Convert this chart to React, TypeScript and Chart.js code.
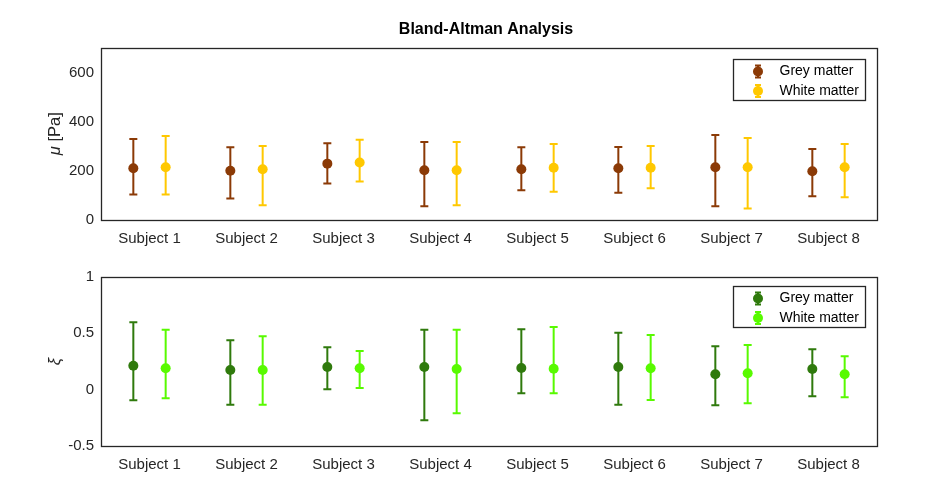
import React, { useEffect, useRef } from 'react';
import { Chart, registerables } from 'chart.js';

Chart.register(...registerables);

const subjects = ['Subject 1', 'Subject 2', 'Subject 3', 'Subject 4', 'Subject 5', 'Subject 6', 'Subject 7', 'Subject 8'];
const legendLabels = ['Grey matter', 'White matter'];

const muGreyMean = [209, 199, 228, 201, 205, 209, 213, 197];
const muGreyLow = [102, 86, 147, 54, 119, 109, 54, 95];
const muGreyHigh = [329, 295, 311, 316, 295, 296, 345, 288];
const muWhiteMean = [213, 205, 233, 201, 211, 211, 213, 213];
const muWhiteLow = [102, 58, 155, 58, 113, 128, 45, 91];
const muWhiteHigh = [341, 300, 326, 316, 308, 300, 333, 308];

const xiGreyMean = [0.213, 0.175, 0.201, 0.201, 0.193, 0.201, 0.137, 0.184];
const xiGreyLow = [-0.094, -0.133, 0.004, -0.272, -0.032, -0.133, -0.138, -0.059];
const xiGreyHigh = [0.598, 0.438, 0.376, 0.532, 0.536, 0.506, 0.385, 0.358];
const xiWhiteMean = [0.19, 0.175, 0.19, 0.184, 0.186, 0.19, 0.146, 0.137];
const xiWhiteLow = [-0.076, -0.133, 0.015, -0.21, -0.032, -0.091, -0.121, -0.067];
const xiWhiteHigh = [0.532, 0.474, 0.343, 0.532, 0.556, 0.485, 0.397, 0.296];

const muTicks = [0, 200, 400, 600];
const xiTicks = [-0.5, 0, 0.5, 1];
const xiTickLabels = ['-0.5', '0', '0.5', '1'];
const muTickLabels = ['0', '200', '400', '600'];

const FONT = '"Liberation Sans", Arial, Helvetica, sans-serif';
const TEXT = '#262626';
const OFFSET = 1 / 6;

type Panel = {
  grey: string;
  white: string;
  greyMean: number[]; greyLow: number[]; greyHigh: number[];
  whiteMean: number[]; whiteLow: number[]; whiteHigh: number[];
  yMin: number; yMax: number; yTicks: number[]; yTickLabels: string[];
  yLabelItalic: string; yLabelRest: string;
  title?: string;
  height: number; areaTop: number; areaBottom: number;
  legendTop: number;
};

const errorBarPlugin = {
  id: 'errorBars',
  beforeDatasetsDraw(chart: any) {
    const ctx = chart.ctx;
    const xs = chart.scales.x;
    const ys = chart.scales.y;
    chart.data.datasets.forEach((ds: any) => {
      ctx.save();
      ctx.strokeStyle = ds.pointBackgroundColor;
      ctx.lineWidth = 2;
      ds.data.forEach((p: any, i: number) => {
        const x = xs.getPixelForValue(p.x);
        const yl = ys.getPixelForValue(ds.errLow[i]);
        const yh = ys.getPixelForValue(ds.errHigh[i]);
        ctx.beginPath();
        ctx.moveTo(x, yl);
        ctx.lineTo(x, yh);
        ctx.moveTo(x - 4, yl);
        ctx.lineTo(x + 4, yl);
        ctx.moveTo(x - 4, yh);
        ctx.lineTo(x + 4, yh);
        ctx.stroke();
      });
      ctx.restore();
    });
  },
};

const decorPlugin = {
  id: 'decor',
  afterDraw(chart: any, _args: any, opts: any) {
    const ctx = chart.ctx;
    const a = chart.chartArea;
    ctx.save();
    // frame
    ctx.strokeStyle = TEXT;
    ctx.lineWidth = 1.3;
    ctx.strokeRect(Math.round(a.left) + 0.5, Math.round(a.top) + 0.5, Math.round(a.right - a.left), Math.round(a.bottom - a.top));

    // title
    if (opts.title) {
      ctx.fillStyle = '#000';
      ctx.font = `bold 16px ${FONT}`;
      ctx.textAlign = 'center';
      ctx.textBaseline = 'middle';
      ctx.fillText(opts.title, (a.left + a.right) / 2 - 3, 30);
    }

    // y label (rotated, mixed styles)
    ctx.save();
    ctx.translate(55, (a.top + a.bottom) / 2);
    ctx.rotate(-Math.PI / 2);
    ctx.fillStyle = TEXT;
    ctx.textBaseline = 'middle';
    const it = `italic 16.5px ${FONT}`;
    const nm = `16.5px ${FONT}`;
    ctx.font = it;
    const w1 = ctx.measureText(opts.yLabelItalic).width;
    ctx.font = nm;
    const w2 = ctx.measureText(opts.yLabelRest).width;
    const sx = -(w1 + w2) / 2;
    ctx.textAlign = 'left';
    ctx.font = it;
    ctx.fillText(opts.yLabelItalic, sx, 0);
    ctx.font = nm;
    ctx.fillText(opts.yLabelRest, sx + w1, 0);
    ctx.restore();

    // legend
    const bw = 132;
    const bh = 41;
    const bx = Math.round(a.right - 12 - bw);
    const by = Math.round(opts.legendTop);
    ctx.fillStyle = '#fff';
    ctx.fillRect(bx, by, bw, bh);
    ctx.strokeStyle = TEXT;
    ctx.lineWidth = 1.3;
    ctx.strokeRect(bx + 0.5, by + 0.5, bw, bh);
    chart.data.datasets.forEach((ds: any, i: number) => {
      const cy = by + 12.5 + i * 19.5;
      const mx = bx + 25;
      ctx.strokeStyle = ds.pointBackgroundColor;
      ctx.lineWidth = 2;
      ctx.beginPath();
      ctx.moveTo(mx, cy - 6);
      ctx.lineTo(mx, cy + 6);
      ctx.moveTo(mx - 3, cy - 6);
      ctx.lineTo(mx + 3, cy - 6);
      ctx.moveTo(mx - 3, cy + 6);
      ctx.lineTo(mx + 3, cy + 6);
      ctx.stroke();
      ctx.fillStyle = ds.pointBackgroundColor;
      ctx.beginPath();
      ctx.arc(mx, cy, 5, 0, Math.PI * 2);
      ctx.fill();
      ctx.fillStyle = '#000';
      ctx.font = `14px ${FONT}`;
      ctx.textAlign = 'left';
      ctx.textBaseline = 'middle';
      ctx.fillText(ds.label, bx + 46.5, cy);
    });
    ctx.restore();
  },
};

function PanelChart({ p, top }: { p: Panel; top: number }) {
  const ref = useRef<HTMLCanvasElement | null>(null);
  useEffect(() => {
    if (!ref.current) return;
    const mk = (mean: number[], off: number) => mean.map((v, i) => ({ x: i + 1 + off, y: v }));
    const chart = new Chart(ref.current, {
      type: 'scatter',
      data: {
        datasets: [
          {
            label: legendLabels[0],
            data: mk(p.greyMean, -OFFSET),
            errLow: p.greyLow, errHigh: p.greyHigh,
            pointBackgroundColor: p.grey, pointBorderWidth: 0, pointRadius: 5, pointHoverRadius: 5,
            showLine: false,
          } as any,
          {
            label: legendLabels[1],
            data: mk(p.whiteMean, OFFSET),
            errLow: p.whiteLow, errHigh: p.whiteHigh,
            pointBackgroundColor: p.white, pointBorderWidth: 0, pointRadius: 5, pointHoverRadius: 5,
            showLine: false,
          } as any,
        ],
      },
      options: {
        responsive: false,
        animation: false,
        events: [],
        layout: { padding: { left: 0, right: 64, top: p.areaTop, bottom: 0 } },
        plugins: {
          legend: { display: false },
          tooltip: { enabled: false },
          decor: {
            title: p.title,
            yLabelItalic: p.yLabelItalic,
            yLabelRest: p.yLabelRest,
            legendTop: p.legendTop,
          },
        } as any,
        scales: {
          x: {
            type: 'linear',
            min: 0.5,
            max: 8.5,
            afterBuildTicks: (s: any) => { s.ticks = subjects.map((_, i) => ({ value: i + 1 })); },
            afterFit: (s: any) => { s.height = p.height - p.areaBottom; },
            ticks: {
              callback: (v: any) => subjects[Math.round(Number(v)) - 1] ?? '',
              font: { family: FONT, size: 15 },
              color: TEXT,
              padding: 10,
              maxRotation: 0,
              autoSkip: false,
            },
            grid: { display: false, drawTicks: false },
            border: { display: false },
          },
          y: {
            type: 'linear',
            min: p.yMin,
            max: p.yMax,
            afterBuildTicks: (s: any) => { s.ticks = p.yTicks.map((v) => ({ value: v })); },
            afterFit: (s: any) => { s.width = 101; },
            ticks: {
              callback: (_v: any, idx: number) => p.yTickLabels[idx] ?? '',
              font: { family: FONT, size: 15 },
              color: TEXT,
              padding: 7,
            },
            grid: { display: false, drawTicks: false },
            border: { display: false },
          },
        },
      },
      plugins: [errorBarPlugin, decorPlugin],
    });
    return () => chart.destroy();
  }, [p]);
  return (
    <canvas
      ref={ref}
      width={941}
      height={p.height}
      style={{ position: 'absolute', left: 0, top, width: 941, height: p.height, display: 'block' }}
    />
  );
}

const topPanel: Panel = {
  grey: '#8B3A06', white: '#FFC800',
  greyMean: muGreyMean, greyLow: muGreyLow, greyHigh: muGreyHigh,
  whiteMean: muWhiteMean, whiteLow: muWhiteLow, whiteHigh: muWhiteHigh,
  yMin: 0, yMax: 700, yTicks: muTicks, yTickLabels: muTickLabels,
  yLabelItalic: 'μ', yLabelRest: ' [Pa]',
  title: 'Bland-Altman Analysis',
  height: 255, areaTop: 48, areaBottom: 219.5,
  legendTop: 59,
};

const bottomPanel: Panel = {
  grey: '#2F7A0C', white: '#58FA00',
  greyMean: xiGreyMean, greyLow: xiGreyLow, greyHigh: xiGreyHigh,
  whiteMean: xiWhiteMean, whiteLow: xiWhiteLow, whiteHigh: xiWhiteHigh,
  yMin: -0.5, yMax: 1, yTicks: xiTicks, yTickLabels: xiTickLabels,
  yLabelItalic: 'ξ', yLabelRest: '',
  height: 248, areaTop: 22, areaBottom: 191,
  legendTop: 31,
};

export default function App() {
  useEffect(() => {
    document.body.style.margin = '0';
    document.body.style.background = '#fff';
  }, []);
  return (
    <div style={{ position: 'relative', width: 941, height: 503, background: '#fff', overflow: 'hidden' }}>
      <PanelChart p={topPanel} top={0} />
      <PanelChart p={bottomPanel} top={255} />
    </div>
  );
}
